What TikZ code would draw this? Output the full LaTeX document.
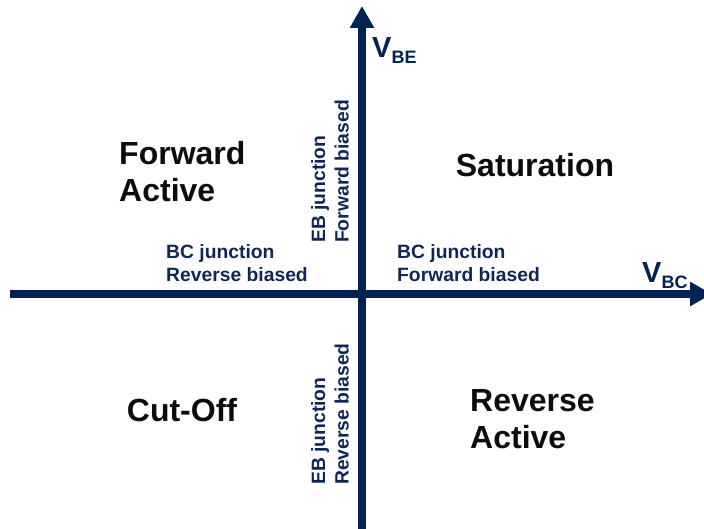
\documentclass[tikz,border=0pt]{standalone}
\usepackage{fontspec}
\setmainfont{Liberation Sans}
\usetikzlibrary{arrows.meta}
\definecolor{axisnavy}{RGB}{0,35,82}
\definecolor{labelnavy}{RGB}{18,38,84}
\definecolor{regionblack}{RGB}{12,12,12}
\tikzset{
  axisline/.style={draw=axisnavy, line width=8pt, -{Triangle[width=23pt,length=22pt]}},
  regiontext/.style={text=regionblack, font=\fontsize{32}{37}\selectfont\bfseries, inner sep=0pt, align=left},
  junctiontext/.style={text=labelnavy, font=\fontsize{19.3}{23.5}\selectfont\bfseries, inner sep=0pt, align=left},
  axistext/.style={text=axisnavy, font=\fontsize{29}{30}\selectfont\bfseries, inner sep=0pt, anchor=base west}
}
\newcommand{\axsub}[1]{\raisebox{-6pt}{\fontsize{18}{18}\selectfont\bfseries #1}}
\begin{document}
\begin{tikzpicture}[x=1pt,y=1pt,yscale=-1]
\useasboundingbox (0,0) rectangle (704,529);

%Straight Lines: axes
\coordinate (vbcstart) at (10,294);
\coordinate (vbcend) at (712,294);
\coordinate (vbestart) at (362,529);
\coordinate (vbeend) at (362,6);
\draw [axisline] (vbcstart) -- (vbcend);
\draw [axisline] (vbestart) -- (vbeend);

% Text Node
\node (vbe) [axistext] at (372,58) {V\axsub{BE}};
% Text Node
\node (vbc) [axistext] at (642,283) {V\axsub{BC}};

% Text Node
\node (fwdactive) [regiontext, anchor=west] at (119,172) {Forward\\Active};
% Text Node
\node (saturation) [regiontext] at (535,165) {Saturation};
% Text Node
\node (cutoff) [regiontext] at (182,410) {Cut-Off};
% Text Node
\node (revactive) [regiontext, anchor=west] at (470,419) {Reverse\\Active};

% Text Node
\node (bcrev) [junctiontext, anchor=west] at (166,263) {BC junction\\Reverse biased};
% Text Node
\node (bcfwd) [junctiontext, anchor=west] at (397,263) {BC junction\\Forward biased};
% Text Node
\node (ebfwd) [junctiontext, rotate=90, anchor=west] at (330,243) {EB junction\\Forward biased};
% Text Node
\node (ebrev) [junctiontext, rotate=90, anchor=west] at (330,485) {EB junction\\Reverse biased};

\end{tikzpicture}
\end{document}
